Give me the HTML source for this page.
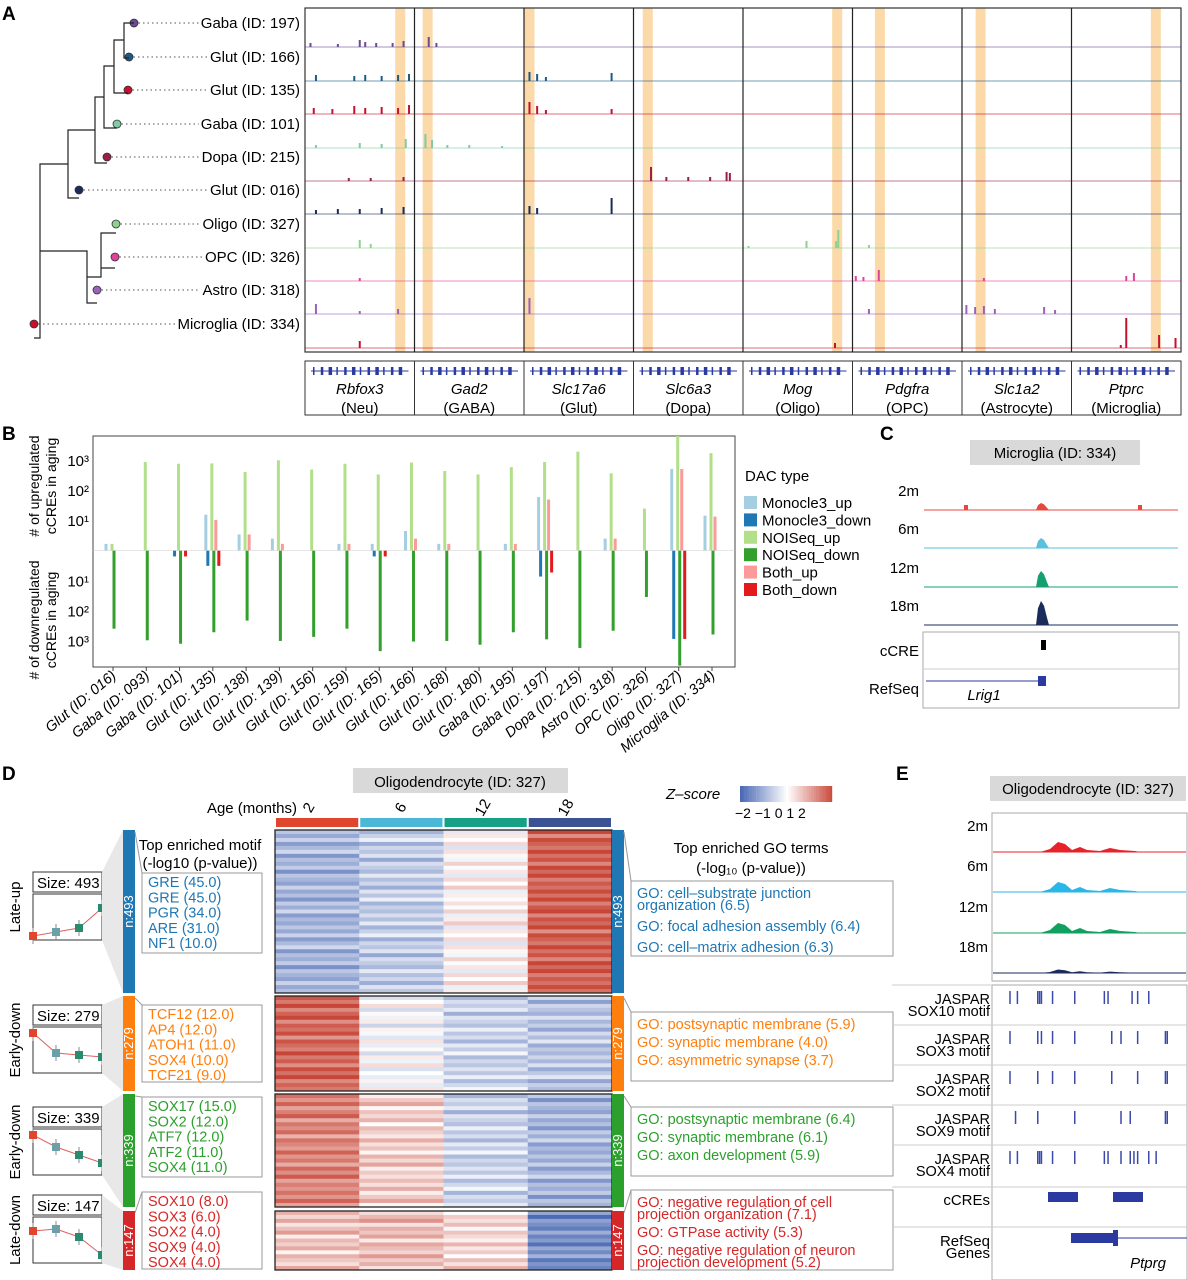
<!DOCTYPE html>
<html><head><meta charset="utf-8">
<style>
html,body{margin:0;padding:0;background:#fff;}
svg{display:block;font-family:"Liberation Sans",Arial,sans-serif;}
</style></head>
<body>
<svg id="fig" width="1188" height="1280" viewBox="0 0 1188 1280" xmlns="http://www.w3.org/2000/svg">
<text x="2" y="20" font-size="19" font-weight="bold">A</text>
<text x="2" y="440" font-size="19" font-weight="bold">B</text>
<text x="880" y="440" font-size="19" font-weight="bold">C</text>
<text x="2" y="780" font-size="19" font-weight="bold">D</text>
<text x="896" y="780" font-size="19" font-weight="bold">E</text>

<g id="panelA"></g>
<g id="panelB"></g>
<g id="panelC"></g>
<g id="panelD"></g>
<g id="panelE"></g>
</svg>
<script>
const NS="http://www.w3.org/2000/svg";
function el(tag,attrs,parent,text){const e=document.createElementNS(NS,tag);for(const k in attrs)e.setAttribute(k,attrs[k]);if(text!==undefined)e.textContent=text;parent.appendChild(e);return e;}

/* ================= PANEL A data ================= */
const aLabels=["Gaba (ID: 197)","Glut (ID: 166)","Glut (ID: 135)","Gaba (ID: 101)","Dopa (ID: 215)","Glut (ID: 016)","Oligo (ID: 327)","OPC (ID: 326)","Astro (ID: 318)","Microglia (ID: 334)"];
const aColors=["#6a4c93","#1c5b86","#c8102e","#7fcba4","#9b1d4a","#1a2b5c","#8fd18f","#e0449a","#9c62b8","#c8102e"];
const aDotX=[134,129,128,117,107,79,116,115,97,34];
const aGenes=["Rbfox3","Gad2","Slc17a6","Slc6a3","Mog","Pdgfra","Slc1a2","Ptprc"];
const aGeneTypes=["(Neu)","(GABA)","(Glut)","(Dopa)","(Oligo)","(OPC)","(Astrocyte)","(Microglia)"];
const aHighlight=[0.87,0.12,0.05,0.13,0.86,0.25,0.17,0.77];
const aPeaks=[
[0,0,0.05,4],[0,0,0.3,3],[0,0,0.5,7],[0,0,0.55,5],[0,0,0.65,4],[0,0,0.8,4],[0,0,0.9,6],[0,1,0.13,10],[0,1,0.2,4],
[1,0,0.1,6],[1,0,0.45,5],[1,0,0.55,6],[1,0,0.7,5],[1,0,0.85,6],[1,0,0.95,7],[1,2,0.05,9],[1,2,0.12,7],[1,2,0.2,4],[1,2,0.8,8],
[2,0,0.08,6],[2,0,0.25,5],[2,0,0.45,8],[2,0,0.55,6],[2,0,0.7,7],[2,0,0.85,6],[2,0,0.95,9],[2,2,0.05,12],[2,2,0.12,8],[2,2,0.2,4],[2,2,0.8,5],
[3,0,0.1,3],[3,0,0.5,5],[3,0,0.7,4],[3,0,0.92,9],[3,1,0.1,14],[3,1,0.16,8],[3,1,0.3,3],[3,1,0.5,3],[3,1,0.8,2],
[4,0,0.4,3],[4,0,0.6,3],[4,0,0.9,4],[4,3,0.16,14],[4,3,0.3,4],[4,3,0.5,4],[4,3,0.7,4],[4,3,0.85,9],[4,3,0.88,8],
[5,0,0.1,4],[5,0,0.3,5],[5,0,0.5,5],[5,0,0.7,6],[5,0,0.9,7],[5,2,0.05,8],[5,2,0.12,6],[5,2,0.8,16],
[6,0,0.5,8],[6,0,0.6,4],[6,4,0.05,2],[6,4,0.58,7],[6,4,0.87,18],[6,4,0.85,7],[6,5,0.15,3],
[7,0,0.5,3],[7,5,0.03,5],[7,5,0.1,4],[7,5,0.24,11],[7,6,0.2,3],[7,7,0.5,5],[7,7,0.57,8],
[8,0,0.1,10],[8,0,0.5,3],[8,0,0.85,5],[8,2,0.05,16],[8,5,0.15,5],[8,6,0.04,9],[8,6,0.12,7],[8,6,0.2,8],[8,6,0.3,5],[8,6,0.75,7],[8,6,0.85,4],
[9,0,0.5,7],[9,4,0.84,5],[9,7,0.5,30],[9,7,0.45,3],[9,7,0.8,13],[9,7,0.95,10]
];
(function(){
const g=document.getElementById('panelA');
const x0=305,x1=1181,top=8,bot=352,cw=(x1-x0)/8;
const base=[47,81,114,148,181,214,248,281,314,348];
aHighlight.forEach((h,c)=>{const r=el('rect',{x:x0+c*cw+h*cw-5,y:top,width:10,height:bot-top,fill:'#fbd9a8'},g);
});
base.forEach((b,i)=>{const l=el('line',{x1:x0,x2:x1,y1:b,y2:b,stroke:aColors[i],'stroke-width':1,opacity:0.6},g);
});
aPeaks.forEach(p=>{const [r,c,rx,h]=p;const x=x0+c*cw+rx*cw;
const pk=el('rect',{x:x-1,y:base[r]-h,width:2,height:h,fill:aColors[r]},g);
});
el('rect',{x:x0,y:top,width:x1-x0,height:bot-top,fill:'none',stroke:'#333','stroke-width':1.2},g);
for(let c=1;c<8;c++)el('line',{x1:x0+c*cw,x2:x0+c*cw,y1:top,y2:bot,stroke:'#222','stroke-width':1.2},g);
el('rect',{x:x0,y:361,width:x1-x0,height:54,fill:'none',stroke:'#333','stroke-width':1},g);
aGenes.forEach((gn,c)=>{const cx=x0+c*cw;
if(c>0)el('line',{x1:cx,x2:cx,y1:361,y2:415,stroke:'#333'},g);
el('line',{x1:cx+6,x2:cx+cw-6,y1:371,y2:371,stroke:'#2b3aa0','stroke-width':1},g);
for(let k=0;k<12;k++){el('rect',{x:cx+8+k*(cw-16)/12,y:367,width:1.5+(k%3),height:8,fill:'#2b3aa0'},g);}
const t=el('text',{x:cx+cw/2,y:394,'font-size':15,'font-style':'italic','text-anchor':'middle'},g,gn);

const t2=el('text',{x:cx+cw/2,y:413,'font-size':15,'text-anchor':'middle'},g,aGeneTypes[c]);
});
base.forEach((b,i)=>{const y=b-24;
const t=el('text',{x:300,y:y+5,'font-size':15,'text-anchor':'end'},g,aLabels[i]);

let w=aLabels[i].length*7.8;try{w=t.getComputedTextLength();}catch(e){}
el('line',{x1:aDotX[i],x2:300-w-2,y1:y,y2:y,stroke:'#555','stroke-dasharray':'1.5,3'},g);
const d=el('circle',{cx:aDotX[i],cy:y,r:4,fill:aColors[i],stroke:'#333','stroke-width':0.8},g);
});
const tree="M134,23H124V58H129 M124,40H114V93H128 M114,66H104V128H117 M104,97H95V163H107 M95,130H68V198H79 M68,164H40V338H34 M40,251H87V303H97 M87,277H101V233H116 M101,233V268H115";
el('path',{d:tree,fill:'none',stroke:'#222','stroke-width':1.2},g);
})();

/* ================= PANEL B data ================= */
const bCats=["Glut (ID: 016)","Gaba (ID: 093)","Gaba (ID: 101)","Glut (ID: 135)","Glut (ID: 138)","Glut (ID: 139)","Glut (ID: 156)","Glut (ID: 159)","Glut (ID: 165)","Glut (ID: 166)","Glut (ID: 168)","Glut (ID: 180)","Gaba (ID: 195)","Gaba (ID: 197)","Dopa (ID: 215)","Astro (ID: 318)","OPC (ID: 326)","Oligo (ID: 327)","Microglia (ID: 334)"];
const monocleUp=[1.6,0,0,15,3.3,2.4,0,1.6,1.6,4.3,1.6,0,1.6,58,0,2.4,0,500,14];
const monocleDown=[0,0,1.6,3.3,0,0,0,0,1.6,0,0,0,0,7.5,0,0,0,900,0];
const noiseqUp=[1.6,860,750,770,400,980,480,750,330,820,430,330,580,860,1900,360,24,8000,1700];
const noiseqDown=[410,1000,1300,540,220,1050,770,410,2300,1100,1050,1400,540,930,1800,480,36,7000,640];
const bothUp=[0,0,0,10,3.3,1.6,0,1.6,0,2.4,1.6,0,1.6,48,0,2.4,0,500,13];
const bothDown=[0,0,1.6,3.3,0,0,0,0,1.6,0,0,0,0,5.5,0,0,0,900,0];
const upTicks=["10¹","10²","10³"], upTickVals=[10,100,1000];
const dnTicks=["10¹","10²","10³"], dnTickVals=[10,100,1000];
const legendNames=["Monocle3_up","Monocle3_down","NOISeq_up","NOISeq_down","Both_up","Both_down"];
const legendColors=["#a6cee3","#1f78b4","#b2df8a","#33a02c","#fb9a99","#e31a1c"];
(function(){
const g=document.getElementById('panelB');
const L=93,R=735,T=436,B=667,Z=550.5;
const xPos=i=>113+i*(712-113)/(bCats.length-1);
const yUp=v=>Math.max(T,550-30*Math.log10(v));
const yDn=v=>Math.min(B,550.3+30*Math.log10(v));
el('rect',{x:L,y:T,width:R-L,height:B-T,fill:'none',stroke:'#444','stroke-width':1},g);
upTickVals.forEach((v,i)=>{const t=el('text',{x:L-4,y:yUp(v)+6,'font-size':15,'text-anchor':'end'},g,upTicks[i]);
});
dnTickVals.forEach((v,i)=>{const t=el('text',{x:L-4,y:yDn(v)+6,'font-size':15,'text-anchor':'end'},g,dnTicks[i]);
});
const t1=el('text',{transform:'translate(39,486) rotate(-90)','font-size':14,'text-anchor':'middle'},g);
el('tspan',{x:0,dy:0},t1,'# of upregulated');el('tspan',{x:0,dy:17},t1,'cCREs in aging');

const t2=el('text',{transform:'translate(39,620) rotate(-90)','font-size':14,'text-anchor':'middle'},g);
el('tspan',{x:0,dy:0},t2,'# of downregulated');el('tspan',{x:0,dy:17},t2,'cCREs in aging');

function bar(x,v,up,color,name){if(!v)return;const y=up?yUp(v):Z;const h=up?Z-yUp(v):yDn(v)-Z;
const r=el('rect',{x:x-1.5,y:y,width:3,height:Math.max(0,h),fill:color},g);
}
bCats.forEach((c,i)=>{const x=xPos(i);
bar(x-7,monocleUp[i],true,legendColors[0],'bar-monocle3-up');
bar(x-1,noiseqUp[i],true,legendColors[2],'bar-noiseq-up');
bar(x+3,bothUp[i],true,legendColors[4],'bar-both-up');
bar(x-5,monocleDown[i],false,legendColors[1],'bar-monocle3-down');
bar(x+1,noiseqDown[i],false,legendColors[3],'bar-noiseq-down');
bar(x+6,bothDown[i],false,legendColors[5],'bar-both-down');
el('line',{x1:x,x2:x,y1:B,y2:B+4,stroke:'#444'},g);
const t=el('text',{transform:`translate(${x+4},${B+10}) rotate(-40)`,'font-size':14.5,'text-anchor':'end','font-style':'italic'},g,c);
});
el('line',{x1:L,x2:R,y1:Z,y2:Z,stroke:'#ccc','stroke-width':0.5},g);
const lt=el('text',{x:745,y:481,'font-size':15},g,'DAC type');
legendNames.forEach((n,i)=>{const y=503+i*17.4;
const s=el('rect',{x:744,y:y-7,width:13,height:13,fill:legendColors[i]},g);
const t=el('text',{x:762,y:y+5,'font-size':15},g,n);});
})();

/* ================= PANEL C ================= */
const cAges=["2m","6m","12m","18m"];
const cColors=["#e8473c","#5bc0de","#16a070","#1a2b5c"];
const cPeakH=[7,10,16,24];
(function(){
const g=document.getElementById('panelC');
el('rect',{x:970,y:440,width:170,height:25,fill:'#d9d9d9'},g);
const tt=el('text',{x:1055,y:458,'font-size':15,'text-anchor':'middle'},g,'Microglia (ID: 334)');

const base=[510,548,587,625];
cAges.forEach((a,i)=>{const t=el('text',{x:919,y:base[i]-14,'font-size':15,'text-anchor':'end'},g,a);

el('line',{x1:924,x2:1178,y1:base[i],y2:base[i],stroke:cColors[i],'stroke-width':1},g);
const h=cPeakH[i];
const p=el('path',{d:`M1036,${base[i]} L1038,${base[i]-h*0.7} L1041,${base[i]-h} L1044,${base[i]-h*0.8} L1047,${base[i]-h*0.3} L1049,${base[i]} Z`,fill:cColors[i]},g);
});
el('rect',{x:964,y:505,width:4,height:5,fill:cColors[0]},g);el('rect',{x:1138,y:505,width:4,height:5,fill:cColors[0]},g);
el('rect',{x:923,y:632,width:256,height:76,fill:'none',stroke:'#aaa'},g);
el('line',{x1:923,x2:1179,y1:669,y2:669,stroke:'#ccc'},g);
el('text',{x:919,y:656,'font-size':15,'text-anchor':'end'},g,'cCRE');
el('rect',{x:1041,y:640,width:5,height:10,fill:'#000'},g);
el('text',{x:919,y:694,'font-size':15,'text-anchor':'end'},g,'RefSeq');
el('line',{x1:926,x2:1046,y1:681,y2:681,stroke:'#2b3aa0'},g);
el('rect',{x:1038,y:676,width:8,height:10,fill:'#2b3aa0'},g);
el('text',{x:984,y:700,'font-size':15,'font-style':'italic','text-anchor':'middle'},g,'Lrig1');
})();

/* ================= PANEL D ================= */
const dAges=["2","6","12","18"];
const dAgeColors=["#e0452e","#4cb8d8","#16a085","#3b5393"];
const dBlockNames=["Late-up","Early-down","Early-down","Late-down"];
const dSizes=[493,279,339,147];
const dBlockColors=["#1f77b4","#ff7f0e","#2ca02c","#d62728"];
const dMeans=[[-1.0,-0.7,0.1,1.7],[1.6,-0.1,-0.6,-0.8],[1.3,0.5,-0.6,-1.0],[0.6,0.7,0.4,-1.5]];
const dRowVar=[0.3,-0.2,0.5,-0.4,0.1,0.6,-0.5,0.2,-0.1,0.4,-0.6,0.3,0.0,-0.3,0.5,-0.2,0.2,-0.5,0.4,-0.1,0.6,-0.4,0.1,-0.2];
const dMotifs=[["GRE (45.0)","GRE (45.0)","PGR (34.0)","ARE (31.0)","NF1 (10.0)"],["TCF12 (12.0)","AP4 (12.0)","ATOH1 (11.0)","SOX4 (10.0)","TCF21 (9.0)"],["SOX17 (15.0)","SOX2 (12.0)","ATF7 (12.0)","ATF2 (11.0)","SOX4 (11.0)"],["SOX10 (8.0)","SOX3 (6.0)","SOX2 (4.0)","SOX9 (4.0)","SOX4 (4.0)"]];
const dGO=[[["GO: cell–substrate junction","organization (6.5)"],["GO: focal adhesion assembly (6.4)"],["GO: cell–matrix adhesion (6.3)"]],
[["GO: postsynaptic membrane (5.9)"],["GO: synaptic membrane (4.0)"],["GO: asymmetric synapse (3.7)"]],
[["GO: postsynaptic membrane (6.4)"],["GO: synaptic membrane (6.1)"],["GO: axon development (5.9)"]],
[["GO: negative regulation of cell","projection organization (7.1)"],["GO: GTPase activity (5.3)"],["GO: negative regulation of neuron","projection development (5.2)"]]];
const dTrend=[[0.0,0.1,0.2,0.7],[0.9,0.4,0.35,0.3],[0.9,0.6,0.4,0.2],[0.7,0.75,0.55,0.1]];
function zColor(z){z=Math.max(-2,Math.min(2,z));const t=Math.abs(z)/2;
const c=z<0?[75,105,180]:[200,70,55];const r=Math.round(255+(c[0]-255)*t),gg=Math.round(255+(c[1]-255)*t),b=Math.round(255+(c[2]-255)*t);return `rgb(${r},${gg},${b})`;}
(function(){
const g=document.getElementById('panelD');
const HX=275,HW=337,cw=HW/4;
const blocks=[[830,993],[996,1091],[1094,1207],[1211,1270]];
el('rect',{x:353,y:768,width:215,height:25,fill:'#d9d9d9'},g);
const tt=el('text',{x:460,y:787,'font-size':15,'text-anchor':'middle'},g,'Oligodendrocyte (ID: 327)');

el('text',{x:297,y:813,'font-size':15,'text-anchor':'end'},g,'Age (months)');
const labX=[313,405,487,570];
dAges.forEach((a,i)=>{const cx=HX+i*cw;
el('rect',{x:cx+1,y:818,width:cw-2,height:9,fill:dAgeColors[i]},g);
const t=el('text',{transform:`translate(${labX[i]},${810}) rotate(-60)`,'font-size':15,'text-anchor':'middle'},g,a);
});
blocks.forEach((bk,bi)=>{const [y0,y1]=bk;const n=Math.round((y1-y0)/4);const rh=(y1-y0)/n;
for(let r=0;r<n;r++){for(let c=0;c<4;c++){const z=dMeans[bi][c]+dRowVar[(r+c*3)%dRowVar.length]*0.8;
const cell=el('rect',{x:HX+c*cw,y:y0+r*rh,width:cw+0.5,height:rh+0.5,fill:zColor(z)},g);
}}
el('rect',{x:HX,y:y0,width:HW,height:y1-y0,fill:'none',stroke:'#222','stroke-width':1.3},g);
[123,612].forEach(sx=>{el('rect',{x:sx,y:y0,width:12,height:y1-y0,fill:dBlockColors[bi]},g);
const t=el('text',{transform:`translate(${sx+10},${(y0+y1)/2}) rotate(-90)`,'font-size':13,fill:'#fff','text-anchor':'middle'},g,'n:'+dSizes[bi]);
});
const py=[872,1005,1107,1195][bi];
el('rect',{x:33,y:py,width:69,height:20,fill:'#fff',stroke:'#333'},g);
el('text',{x:37,y:py+16,'font-size':15},g,'Size: '+dSizes[bi]);
el('rect',{x:33,y:py+22,width:69,height:46,fill:'none',stroke:'#333'},g);
const pts=dTrend[bi].map((v,k)=>[33+k*23,py+64-v*40]);
el('polyline',{points:pts.map(p=>p.join(',')).join(' '),fill:'none',stroke:'#e06060','stroke-width':1},g);
pts.forEach((p,k)=>{el('line',{x1:p[0],x2:p[0],y1:p[1]-8,y2:p[1]+8,stroke:'#888'},g);
const m=el('rect',{x:p[0]-4,y:p[1]-4,width:8,height:8,fill:k==0?'#e0452e':(k==1?'#6aa0a8':'#2a8a70')},g);
});
const nm=el('text',{transform:`translate(20,${py+35}) rotate(-90)`,'font-size':15,'text-anchor':'middle'},g,dBlockNames[bi]);

el('path',{d:`M102,${py} L123,${y0} L123,${y1} L102,${py+68}Z`,fill:'#e8e8e8'},g);
const my=[873,1005,1097,1192][bi];
el('rect',{x:142,y:my,width:120,height:[80,77,80,77][bi],fill:'none',stroke:'#999'},g);
el('line',{x1:135,x2:142,y1:y0+2,y2:my,stroke:'#999'},g);
dMotifs[bi].forEach((m,k)=>{const t=el('text',{x:148,y:my+14+k*15.3,'font-size':14.5,fill:dBlockColors[bi]},g,m);
});
const gy=[881,1012,1107,1190][bi];
el('rect',{x:631,y:gy,width:262,height:[75,69,69,80][bi],fill:'none',stroke:'#999'},g);
el('line',{x1:624,x2:631,y1:y0+2,y2:gy,stroke:'#999'},g);
let yy=gy+17;
dGO[bi].forEach(lines=>{lines.forEach((ln,li)=>{const t=el('text',{x:637,y:yy,'font-size':14.5,fill:dBlockColors[bi]},g,ln);
yy+=li<lines.length-1?12:0;});yy+=bi==0?21:18;});
});
el('text',{x:200,y:850,'font-size':15,'text-anchor':'middle'},g,'Top enriched motif');
el('text',{x:200,y:868,'font-size':15,'text-anchor':'middle'},g,'(-log10 (p-value))');
el('text',{x:751,y:853,'font-size':15,'text-anchor':'middle'},g,'Top enriched GO terms');
el('text',{x:751,y:873,'font-size':15,'text-anchor':'middle'},g,'(-log₁₀ (p-value))');
el('text',{x:666,y:799,'font-size':15,'font-style':'italic'},g,'Z–score');
for(let k=0;k<40;k++){el('rect',{x:740+k*2.3,y:786,width:2.5,height:16,fill:zColor(-2+k*0.1)},g);}
el('text',{x:735,y:818,'font-size':14},g,'−2 −1  0   1   2');
})();

/* ================= PANEL E ================= */
const eAges=["2m","6m","12m","18m"];
const eColors=["#e8222a","#29b6e8","#10a060","#1a2b5c"];
const ePeakScale=[1.0,1.0,1.0,0.35];
const eMotifNames=["SOX10","SOX3","SOX2","SOX9","SOX4"];
const eMotifPos=[[0.05,0.09,0.2,0.21,0.22,0.28,0.4,0.56,0.58,0.71,0.74,0.8],[0.05,0.2,0.22,0.28,0.4,0.6,0.65,0.74,0.89,0.9],[0.05,0.2,0.28,0.4,0.6,0.74,0.89,0.9],[0.08,0.2,0.4,0.65,0.7,0.89,0.9],[0.05,0.09,0.2,0.21,0.22,0.28,0.4,0.56,0.58,0.65,0.7,0.72,0.74,0.8,0.84]];
(function(){
const g=document.getElementById('panelE');
el('rect',{x:990,y:776,width:196,height:25,fill:'#d9d9d9'},g);
const tt=el('text',{x:1088,y:794,'font-size':15,'text-anchor':'middle'},g,'Oligodendrocyte (ID: 327)');

el('rect',{x:992,y:813,width:195,height:168,fill:'none',stroke:'#aaa'},g);
const base=[852,892,933,973];
eAges.forEach((a,i)=>{const t=el('text',{x:988,y:base[i]-21,'font-size':15,'text-anchor':'end'},g,a);

el('line',{x1:993,x2:1186,y1:base[i],y2:base[i],stroke:eColors[i]},g);
const s=ePeakScale[i],b=base[i];
const d=`M1040,${b} L1050,${b-3*s} L1058,${b-10*s} L1065,${b-8*s} L1072,${b-2*s} L1080,${b-5*s} L1087,${b-2*s} L1100,${b-1*s} L1110,${b-4*s} L1120,${b-2*s} L1135,${b-1*s} L1140,${b} Z`;
const p=el('path',{d:d,fill:eColors[i]},g);});
el('rect',{x:992,y:985,width:195,height:295,fill:'none',stroke:'#aaa'},g);
[1025,1065,1105,1145,1187,1227].forEach(y=>el('line',{x1:892,x2:1187,y1:y,y2:y,stroke:'#ccc'},g));
el('line',{x1:892,x2:992,y1:985,y2:985,stroke:'#ccc'},g);
eMotifNames.forEach((m,i)=>{const y0=985+i*40;
el('text',{x:990,y:y0+19,'font-size':14.5,'text-anchor':'end'},g,'JASPAR');
const t2=el('text',{x:990,y:y0+31,'font-size':14.5,'text-anchor':'end'},g,m+' motif');

eMotifPos[i].forEach(px=>{const r=el('rect',{x:1000+px*185,y:y0+6,width:1.5,height:13,fill:'#3b4aa8'},g);
});});
el('text',{x:990,y:1205,'font-size':15,'text-anchor':'end'},g,'cCREs');
el('rect',{x:1048,y:1192,width:30,height:10,fill:'#2b3aa0'},g);
el('rect',{x:1113,y:1192,width:30,height:10,fill:'#2b3aa0'},g);
el('text',{x:990,y:1246,'font-size':15,'text-anchor':'end'},g,'RefSeq');
el('text',{x:990,y:1258,'font-size':15,'text-anchor':'end'},g,'Genes');
el('rect',{x:1071,y:1233,width:43,height:10,fill:'#2b3aa0'},g);
el('rect',{x:1113,y:1230,width:5,height:16,fill:'#2b3aa0'},g);
el('line',{x1:1118,x2:1187,y1:1238,y2:1238,stroke:'#2b3aa0'},g);
el('text',{x:1148,y:1268,'font-size':15,'font-style':'italic','text-anchor':'middle'},g,'Ptprg');
})();
</script>
</body></html>
